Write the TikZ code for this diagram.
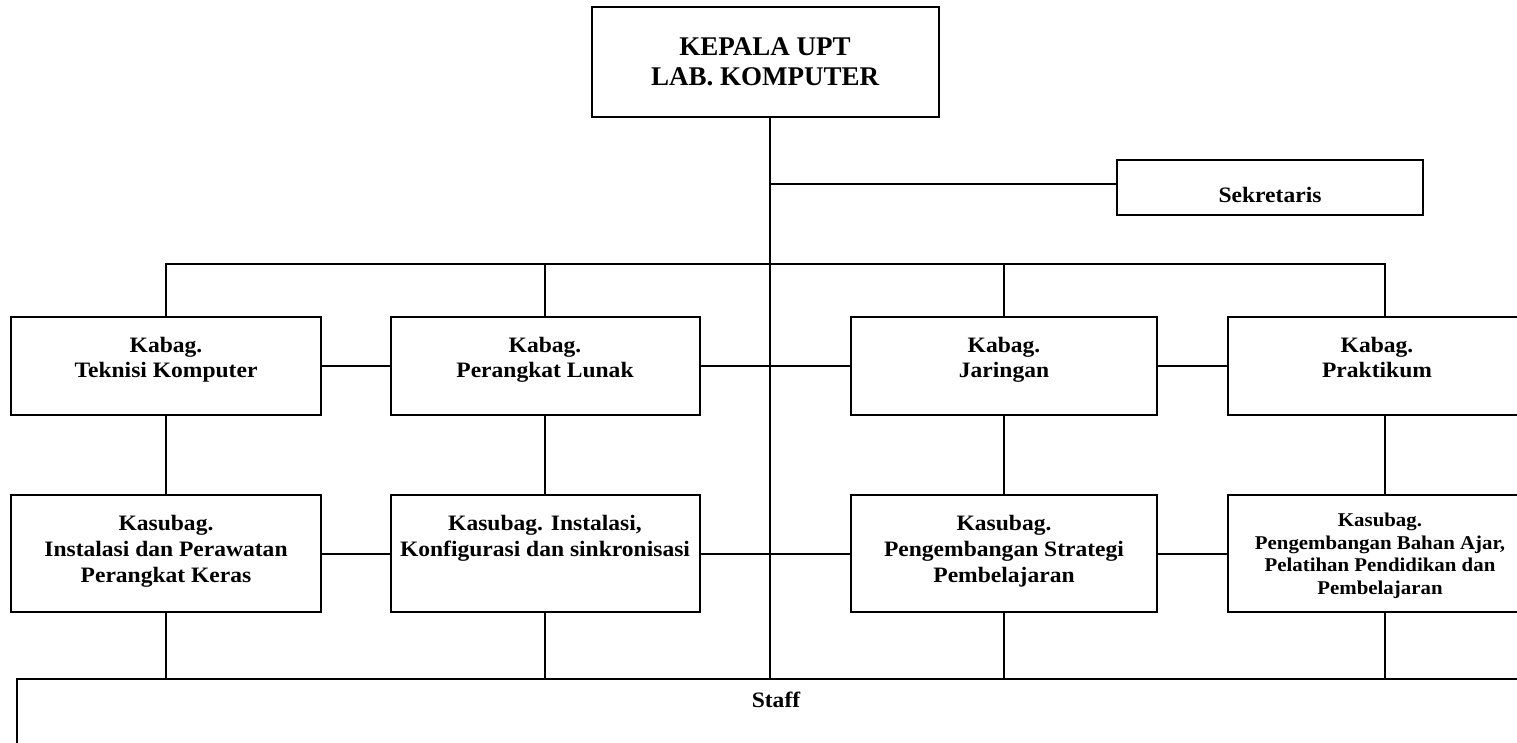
\documentclass[tikz,border=0pt]{standalone}
\usepackage{fontspec}
\setmainfont{Liberation Serif}
\newfontfamily\widefont{Liberation Serif}[FakeStretch=1.07]
\usetikzlibrary{calc}
\tikzset{
  box/.style={draw, line width=2pt, inner sep=0pt, minimum width=#1},
  kabag/.style={box=#1, minimum height=98pt},
  kasub/.style={box=#1, minimum height=117pt},
  txt/.style={align=center, inner sep=0pt, anchor=north,
    font=\widefont\fontsize{22}{25}\selectfont\bfseries},
  subtxt/.style={txt, font=\widefont\fontsize{22}{26}\selectfont\bfseries},
  smalltxt/.style={txt, font=\widefont\fontsize{19.5}{22.5}\selectfont\bfseries},
  link/.style={line width=2pt}
}
\begin{document}
\begin{tikzpicture}[x=1pt, y=-1pt]
\useasboundingbox (0,0) rectangle (1517,743);
\clip (0,0) rectangle (1517,743);

% head of the unit
\node[box=347pt, minimum height=110pt, align=center,
  font=\fontsize{27}{30}\selectfont\bfseries] (kepala) at (765,62)
  {KEPALA UPT\\LAB. KOMPUTER};

% secretary
\node[box=306pt, minimum height=55pt] (sek) at (1270,187.5) {};
\node[txt, anchor=base] (tsek) at ($(sek.south)+(0,-13)$) {Sekretaris};

% heads of division
\node[kabag=310pt] (kb1) at (166,366) {};
\node[kabag=309pt] (kb2) at (545,366) {};
\node[kabag=306pt] (kb3) at (1004,366) {};
\node[kabag=314pt] (kb4) at (1385,366) {};

% heads of sub-division
\node[kasub=310pt] (ks1) at (166,553.5) {};
\node[kasub=309pt] (ks2) at (545,553.5) {};
\node[kasub=306pt] (ks3) at (1004,553.5) {};
\node[kasub=314pt] (ks4) at (1385,553.5) {};

% staff
\node[box=1530pt, minimum height=100pt, anchor=north west] (staff) at (16,678) {};
\node[txt, anchor=base] (tstaff) at ($(staff.north)+(-6,29)$) {Staff};

% box labels
\node[txt] (tkb1) at ($(kb1.north)+(0,21)$) {Kabag.\\Teknisi Komputer};
\node[txt] (tkb2) at ($(kb2.north)+(0,21)$) {Kabag.\\Perangkat Lunak};
\node[txt] (tkb3) at ($(kb3.north)+(0,21)$) {Kabag.\\Jaringan};
\node[txt] (tkb4) at ($(kb4.north)+(-8,21)$) {Kabag.\\Praktikum};

\node[subtxt] (tks1) at ($(ks1.north)+(0,21)$) {Kasubag.\\Instalasi dan Perawatan\\Perangkat Keras};
\node[subtxt] (tks2) at ($(ks2.north)+(0,21)$) {Kasubag. Instalasi,\\Konfigurasi dan sinkronisasi};
\node[subtxt] (tks3) at ($(ks3.north)+(0,21)$) {Kasubag.\\Pengembangan Strategi\\Pembelajaran};
\node[smalltxt] (tks4) at ($(ks4.north)+(-5,19)$) {Kasubag.\\Pengembangan Bahan Ajar,\\Pelatihan Pendidikan dan\\Pembelajaran};

% main trunk
\coordinate (trunk) at (770,0);
\coordinate (branch) at (0,264);
\coordinate (sekin) at ($(sek.west)+(0,-3)$);
\draw[link] (kepala.south -| trunk) -- (staff.north -| trunk);
\draw[link] (sekin -| trunk) -- (sekin);

% branch to the divisions
\draw[link] (kb1.north) -- (kb1.north |- branch) -- (kb4.north |- branch) -- (kb4.north);
\draw[link] (kb2.north |- branch) -- (kb2.north);
\draw[link] (kb3.north |- branch) -- (kb3.north);

% side links within each row
\draw[link] (kb1.east) -- (kb2.west);
\draw[link] (kb2.east) -- (kb3.west);
\draw[link] (kb3.east) -- (kb4.west);
\draw[link] (ks1.east) -- (ks2.west);
\draw[link] (ks2.east) -- (ks3.west);
\draw[link] (ks3.east) -- (ks4.west);

% down the columns
\foreach \i in {1,2,3,4} {
  \draw[link] (kb\i.south) -- (ks\i.north);
  \draw[link] (ks\i.south) -- (ks\i.south |- staff.north);
}
\end{tikzpicture}
\end{document}
